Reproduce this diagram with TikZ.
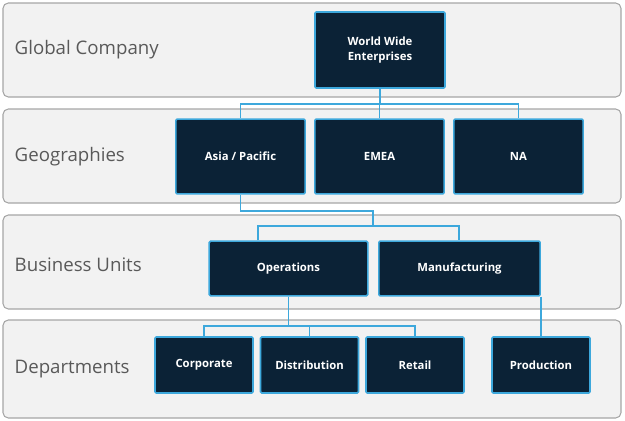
\documentclass[tikz,border=0pt]{standalone}
\usepackage{fontspec}
\setmainfont{Open Sans}
\usetikzlibrary{positioning}
\definecolor{boxfill}{HTML}{0B2236}
\definecolor{boxline}{HTML}{3DA8DC}
\definecolor{bandfill}{HTML}{F2F2F2}
\definecolor{bandline}{HTML}{A6A6A6}
\definecolor{labeltext}{HTML}{595959}
\tikzset{
	band/.style={draw=bandline, fill=bandfill, rounded corners=4pt, line width=0.8pt},
	bandlabel/.style={anchor=west, text=labeltext, font=\fontsize{14}{16}\selectfont},
	unit/.style={draw=boxline, fill=boxfill, line width=1.2pt, rounded corners=1pt,
		text=white, font=\bfseries\fontsize{8.5}{11}\selectfont, align=center, inner sep=0pt},
	link/.style={draw=boxline, line width=1pt}
}
\begin{document}
\begin{tikzpicture}[x=0.75pt, y=-0.75pt]
		\useasboundingbox (0,0) rectangle (625,421);

		% Bands
		\draw[band] (3,3) rectangle (621,97);
		\draw[band] (3,109) rectangle (621,203);
		\draw[band] (3,215) rectangle (621,309);
		\draw[band] (3,320) rectangle (621,418);
		\node[bandlabel] (lglobal) at (10,50) {Global Company};
		\node[bandlabel] (lgeo) at (10,157) {Geographies};
		\node[bandlabel] (lbu) at (10,265) {Business Units};
		\node[bandlabel] (ldept) at (10,369) {Departments};

		% Boxes
		\node[unit, minimum width=97.5pt, minimum height=57pt] (wwe) at (380,50) {World Wide\\Enterprises};
		\node[unit, minimum width=97pt, minimum height=56pt] (asia) at (240.5,156.5) {Asia / Pacific};
		\node[unit, minimum width=97pt, minimum height=56pt] (emea) at (379.5,156.5) {EMEA};
		\node[unit, minimum width=97pt, minimum height=56pt] (na) at (518.5,156.5) {NA};
		\node[unit, minimum width=119pt, minimum height=41pt] (ops) at (288.5,268.5) {Operations};
		\node[unit, minimum width=121pt, minimum height=41pt] (manu) at (459.5,268.5) {Manufacturing};
		\node[unit, minimum width=73.5pt, minimum height=42pt] (corp) at (204,365) {Corporate};
		\node[unit, minimum width=73.5pt, minimum height=42pt] (dist) at (309.5,365) {Distribution};
		\node[unit, minimum width=73.5pt, minimum height=42pt] (retail) at (415,365) {Retail};
		\node[unit, minimum width=73.5pt, minimum height=42pt] (prod) at (541,365) {Production};

		% Connectors
		\coordinate (j1) at (380,104);
		\draw[link] (wwe.south) -- (j1);
		\draw[link] (asia.north) |- (j1) -| (na.north);
		\draw[link] (emea.north) -- (emea.north |- j1);
		\coordinate (j2) at (373,211);
		\coordinate (j3) at (373,226);
		\draw[link] (asia.south) |- (j2) -- (j3);
		\draw[link] (ops.north -| 258,0) |- (j3) -| (manu.north -| 459,0);
		\coordinate (j4) at (0,326);
		\draw[link] (ops.south) -- (ops.south |- j4);
		\draw[link] (corp.north) |- (ops.south |- j4) -| (retail.north);
		\draw[link] (dist.north) -- (dist.north |- j4);
		\draw[link] (manu.south -| prod.north) -- (prod.north);
	\end{tikzpicture}
\end{document}
